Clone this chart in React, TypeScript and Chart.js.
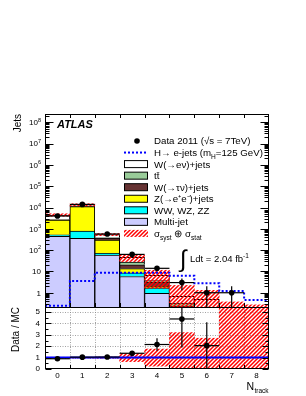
import React, { useEffect, useRef } from 'react';
import { Chart, registerables } from 'chart.js';

Chart.register(...registerables);

// ---------------- data ----------------
const bins = [0, 1, 2, 3, 4, 5, 6, 7, 8];
const xTickLabels = ['0', '1', '2', '3', '4', '5', '6', '7', '8'];

// stacked MC components, bottom -> top
const multiJet = [450, 360, 59, 5.8, 0.95, 0, 0, 0, 0];
const diboson = [70, 430, 12, 2.8, 0.75, 0.05, 0.03, 0.02, 0.01];
const zee = [2080, 10200, 229, 5, 0.3, 0.03, 0.02, 0.01, 0.01];
const wtaunu = [30, 150, 70, 7, 1.2, 0.15, 0.1, 0.03, 0.02];
const ttbar = [10, 30, 10, 7, 0.5, 0.1, 0.06, 0.02, 0.02];
const wenu = [1810, 2330, 160, 18, 2.8, 0.35, 0.28, 0.07, 0.04];

const signal = [0.245, 3.6, 8.7, 8.7, 8.7, 6.2, 2.8, 1.2, 0.45];

const dataValues: (number | null)[] = [4000, 14000, 570, 63, 14, 3, 1, 1, null];
const dataErrors: (number | null)[] = [63, 118, 24, 8, 3.7, 1.7, 1, 1, null];

const bandLow = [3900, 12000, 480, 29, 1.6, 0, 0, 0, 0];
const bandHigh = [5100, 15000, 600, 60, 11.4, 2.2, 1.3, 0.37, 0.27];

const ratioValues: (number | null)[] = [0.9, 1.04, 1.05, 1.38, 2.15, 4.39, 2.05, null, null];
const ratioErrors: (number | null)[] = [0.02, 0.01, 0.05, 0.15, 0.55, 2.5, 2.05, null, null];
const ratioBandLow = [0.97, 0.97, 0.95, 0.65, 0.25, 0, 0, 0, 0];
const ratioBandHigh = [1.03, 1.03, 1.05, 1.35, 1.75, 3.19, 2.7, 6, 6];
const ratioReference = 1;

const mainTickExponents = [0, 1, 2, 3, 4, 5, 6, 7, 8];
const ratioTicks = [0, 1, 2, 3, 4, 5];

// ---------------- styling constants ----------------
const FONT = "'Liberation Sans', Arial, Helvetica, sans-serif";
const Y_MIN = 0.214;
const Y_MAX = 2.45e8;
const R_MIN = 0;
const R_MAX = 5.44;
const X_MIN = -0.5;
const X_MAX = 8.5;

function makeHatch(): CanvasPattern | string {
  const c = document.createElement('canvas');
  const s = 4;
  c.width = s;
  c.height = s;
  const g = c.getContext('2d');
  if (!g) return 'rgba(255,0,0,0.5)';
  g.strokeStyle = '#ff0000';
  g.lineWidth = 1.5;
  g.beginPath();
  g.moveTo(0, s);
  g.lineTo(s, 0);
  g.moveTo(-1, 1);
  g.lineTo(1, -1);
  g.moveTo(s - 1, s + 1);
  g.lineTo(s + 1, s - 1);
  g.stroke();
  return g.createPattern(c, 'repeat') || 'rgba(255,0,0,0.5)';
}

type Part = [string, 'n' | 'sub' | 'sup'];

function drawRich(ctx: CanvasRenderingContext2D, parts: Part[], x: number, y: number, size: number) {
  let cx = x;
  for (const [t, k] of parts) {
    const fs = k === 'n' ? size : size * 0.68;
    const dy = k === 'sub' ? size * 0.3 : k === 'sup' ? -size * 0.42 : 0;
    ctx.font = `${fs}px ${FONT}`;
    ctx.fillText(t, cx, y + dy);
    cx += ctx.measureText(t).width;
  }
}

export default function App() {
  const ref = useRef<HTMLCanvasElement>(null);

  useEffect(() => {
    const canvas = ref.current;
    if (!canvas) return;
    const hatch = makeHatch();

    const components = [
      { label: 'Multi-jet', values: multiJet, color: '#ccccff' },
      { label: 'WW, WZ, ZZ', values: diboson, color: '#00ffff' },
      { label: 'Z(→e⁺e⁻)+jets', values: zee, color: '#ffff00' },
      { label: 'W(→τν)+jets', values: wtaunu, color: '#663333' },
      { label: 'tt̄', values: ttbar, color: '#99cc99' },
      { label: 'W(→eν)+jets', values: wenu, color: '#ffffff' },
    ];

    let prev = bins.map(() => 0);
    const stackDatasets = components.map((c) => {
      const lo = prev;
      const hi = lo.map((v, i) => v + c.values[i]);
      prev = hi;
      return {
        type: 'bar',
        label: c.label,
        yAxisID: 'y',
        data: bins.map((b, i) =>
          hi[i] > Y_MIN && c.values[i] > 0
            ? { x: b, y: [Math.max(lo[i], Y_MIN), hi[i]] }
            : { x: b, y: null }
        ),
        backgroundColor: c.color,
        borderColor: '#000000',
        borderWidth: 1,
        borderSkipped: 'bottom',
        grouped: false,
        barPercentage: 1,
        categoryPercentage: 1,
        order: 20,
      };
    });

    const signalPoints = bins
      .map((b, i) => ({ x: b - 0.5, y: signal[i] }))
      .concat([{ x: bins[bins.length - 1] + 0.5, y: signal[signal.length - 1] }]);

    const datasets: any[] = [
      ...stackDatasets,
      {
        type: 'bar',
        label: 'band',
        yAxisID: 'y',
        data: bins.map((b, i) => ({ x: b, y: [Math.max(bandLow[i], Y_MIN), bandHigh[i]] })),
        backgroundColor: hatch,
        borderWidth: 0,
        grouped: false,
        barPercentage: 1,
        categoryPercentage: 1,
        order: 15,
      },
      {
        type: 'line',
        label: 'signal',
        yAxisID: 'y',
        data: signalPoints,
        stepped: 'before',
        borderColor: '#0000ff',
        borderWidth: 2,
        borderDash: [2, 2],
        pointRadius: 0,
        fill: false,
        order: 10,
      },
      {
        type: 'line',
        label: 'data',
        yAxisID: 'y',
        data: bins
          .map((b, i) => ({ x: b, y: dataValues[i] }))
          .filter((p) => p.y !== null),
        showLine: false,
        pointRadius: 2.8,
        pointBackgroundColor: '#000000',
        pointBorderWidth: 0,
        order: 5,
      },
      {
        type: 'bar',
        label: 'ratio band',
        yAxisID: 'yR',
        data: bins.map((b, i) => ({
          x: b,
          y: [Math.max(ratioBandLow[i], R_MIN), Math.min(ratioBandHigh[i], R_MAX)],
        })),
        backgroundColor: hatch,
        borderWidth: 0,
        grouped: false,
        barPercentage: 1,
        categoryPercentage: 1,
        order: 15,
      },
      {
        type: 'line',
        label: 'ratio ref',
        yAxisID: 'yR',
        data: [
          { x: X_MIN, y: ratioReference },
          { x: X_MAX, y: ratioReference },
        ],
        borderColor: '#0000ff',
        borderWidth: 2,
        pointRadius: 0,
        order: 10,
      },
      {
        type: 'line',
        label: 'ratio',
        yAxisID: 'yR',
        data: bins
          .map((b, i) => ({ x: b, y: ratioValues[i] }))
          .filter((p) => p.y !== null),
        showLine: false,
        pointRadius: 2.8,
        pointBackgroundColor: '#000000',
        pointBorderWidth: 0,
        order: 5,
      },
    ];

    const line = (ctx: CanvasRenderingContext2D, x1: number, y1: number, x2: number, y2: number) => {
      ctx.beginPath();
      ctx.moveTo(x1, y1);
      ctx.lineTo(x2, y2);
      ctx.stroke();
    };

    const decor = {
      id: 'atlasDecor',
      beforeDatasetsDraw(chart: any) {
        const { ctx, chartArea, scales } = chart;
        const x = scales.x;
        const yR = scales.yR;
        ctx.save();
        ctx.strokeStyle = '#8a8a8a';
        ctx.lineWidth = 0.8;
        ctx.setLineDash([1, 1.5]);
        for (const t of ratioTicks) {
          if (t <= R_MIN) continue;
          const py = Math.round(yR.getPixelForValue(t)) + 0.5;
          line(ctx, chartArea.left, py, chartArea.right, py);
        }
        for (let i = 0; i < bins.length - 1; i++) {
          const px = Math.round(x.getPixelForValue(bins[i] + 0.5)) + 0.5;
          line(ctx, px, yR.top, px, yR.bottom);
        }
        ctx.restore();
      },
      afterDatasetsDraw(chart: any) {
        const { ctx, chartArea, scales } = chart;
        const x = scales.x;
        const y = scales.y;
        const yR = scales.yR;
        ctx.save();

        // error bars (main)
        ctx.strokeStyle = '#000';
        ctx.lineWidth = 1.2;
        bins.forEach((b, i) => {
          const v = dataValues[i];
          const e = dataErrors[i];
          if (v === null || e === null) return;
          const pl = x.getPixelForValue(b - 0.5);
          const pr = x.getPixelForValue(b + 0.5);
          const pc = x.getPixelForValue(b);
          const py = y.getPixelForValue(v);
          const pt = y.getPixelForValue(v + e);
          const pb = v - e > Y_MIN ? y.getPixelForValue(v - e) : y.bottom;
          line(ctx, pl, py, pr, py);
          line(ctx, pc, Math.max(pt, y.top), pc, Math.min(pb, y.bottom));
        });
        // error bars (ratio)
        bins.forEach((b, i) => {
          const v = ratioValues[i];
          const e = ratioErrors[i];
          if (v === null || e === null) return;
          const pl = x.getPixelForValue(b - 0.5);
          const pr = x.getPixelForValue(b + 0.5);
          const pc = x.getPixelForValue(b);
          const py = yR.getPixelForValue(v);
          const pt = yR.getPixelForValue(Math.min(v + e, R_MAX));
          const pb = yR.getPixelForValue(Math.max(v - e, R_MIN));
          line(ctx, pl, py, pr, py);
          line(ctx, pc, pt, pc, pb);
        });

        // frames
        ctx.lineWidth = 1;
        ctx.strokeStyle = '#000';
        const L = Math.round(chartArea.left) + 0.5;
        const R = Math.round(chartArea.right) - 0.5;
        ctx.strokeRect(L, Math.round(y.top) + 0.5, R - L, Math.round(y.bottom) - Math.round(y.top));
        ctx.strokeRect(L, Math.round(yR.top) + 0.5, R - L, Math.round(yR.bottom) - Math.round(yR.top) - 1);

        // log ticks main (inward, both sides)
        for (let e = -1; e <= 8; e++) {
          for (let m = 1; m <= 9; m++) {
            const v = m * Math.pow(10, e);
            if (v < Y_MIN || v > Y_MAX) continue;
            const py = Math.round(y.getPixelForValue(v)) + 0.5;
            const len = m === 1 ? 8 : 4;
            line(ctx, L, py, L + len, py);
            line(ctx, R, py, R - len, py);
          }
        }
        // ratio ticks
        for (let t = 0; t <= R_MAX; t += 0.5) {
          const py = Math.round(yR.getPixelForValue(t)) + 0.5;
          const len = Number.isInteger(t) ? 6 : 3;
          line(ctx, L, py, L + len, py);
          line(ctx, R, py, R - len, py);
        }
        // x ticks at bin edges
        for (let i = 0; i < bins.length - 1; i++) {
          const px = Math.round(x.getPixelForValue(bins[i] + 0.5)) + 0.5;
          line(ctx, px, y.top, px, y.top + 4);
          line(ctx, px, y.bottom, px, y.bottom - 4);
          line(ctx, px, yR.bottom, px, yR.bottom - 4);
        }

        // main y labels
        ctx.fillStyle = '#000';
        ctx.textAlign = 'left';
        ctx.textBaseline = 'alphabetic';
        for (const e of mainTickExponents) {
          const py = y.getPixelForValue(Math.pow(10, e));
          const base = py + 2.9;
          ctx.font = `8px ${FONT}`;
          if (e === 0 || e === 1) {
            const t = e === 0 ? '1' : '10';
            const w = ctx.measureText(t).width;
            ctx.fillText(t, 41 - w, base);
          } else {
            ctx.font = `5.5px ${FONT}`;
            const sup = String(e);
            const sw = ctx.measureText(sup).width;
            ctx.font = `8px ${FONT}`;
            const w = ctx.measureText('10').width;
            ctx.fillText('10', 41 - sw - w, base);
            ctx.font = `5.5px ${FONT}`;
            ctx.fillText(sup, 41 - sw, base - 3.6);
          }
        }

        // ATLAS label
        ctx.font = `italic bold 11px ${FONT}`;
        ctx.fillText('ATLAS', 57, 127.5);

        // legend
        const swL = 124;
        const swW = 24;
        const tx = 154;
        const y0 = 141;
        const dy = 11.55;
        const fs = 9.7;
        const textY = (k: number) => y0 + k * dy + 3.4;
        ctx.beginPath();
        ctx.arc(137, y0, 2.8, 0, Math.PI * 2);
        ctx.fill();
        drawRich(ctx, [['Data 2011 (√s = 7TeV)', 'n']], tx, textY(0), fs);
        ctx.save();
        ctx.strokeStyle = '#0000ff';
        ctx.lineWidth = 2;
        ctx.setLineDash([2, 2]);
        line(ctx, swL, y0 + dy, swL + swW, y0 + dy);
        ctx.restore();
        drawRich(ctx, [['H→ e-jets (m', 'n'], ['H', 'sub'], ['=125 GeV)', 'n']], tx, textY(1), fs);
        const rev = [...components].reverse();
        rev.forEach((c, k) => {
          const cy = y0 + (k + 2) * dy;
          ctx.fillStyle = c.color;
          ctx.fillRect(swL, cy - 3.5, swW, 7);
          ctx.strokeStyle = '#000';
          ctx.lineWidth = 1;
          ctx.strokeRect(swL + 0.5, cy - 3.5, swW - 1, 7);
          ctx.fillStyle = '#000';
          drawRich(ctx, [[c.label, 'n']], tx, textY(k + 2), fs);
        });
        const hy = y0 + 8 * dy;
        ctx.fillStyle = hatch as any;
        ctx.fillRect(swL, hy - 3.5, swW, 7);
        ctx.fillStyle = '#000';
        drawRich(ctx, [['σ', 'n'], ['syst', 'sub'], [' ⊕ σ', 'n'], ['stat', 'sub']], tx, textY(8), fs);

        // luminosity
        ctx.font = `24px ${FONT}`;
        ctx.fillText('∫', 180, 267);
        drawRich(ctx, [['Ldt = 2.04 fb', 'n'], ['-1', 'sup']], 190, 261.5, 9.5);

        // x-axis title
        drawRich(ctx, [['N', 'n']], 246.5, 389.5, 10.5);
        ctx.font = `6.5px ${FONT}`;
        ctx.fillText('track', 254.5, 392.8);

        ctx.restore();
      },
    };

    const chart = new Chart(canvas, {
      type: 'bar',
      data: { datasets },
      options: {
        responsive: false,
        maintainAspectRatio: false,
        animation: false,
        events: [],
        layout: { padding: { left: 0, right: 37, top: 114, bottom: 0 } },
        plugins: {
          legend: { display: false },
          tooltip: { enabled: false },
          title: { display: false },
        },
        scales: {
          x: {
            type: 'linear',
            min: X_MIN,
            max: X_MAX,
            offset: false,
            grid: { display: false, drawTicks: false },
            border: { display: false },
            ticks: {
              autoSkip: false,
              maxRotation: 0,
              padding: 2,
              color: '#000',
              font: { family: FONT, size: 8 },
              callback: (v: any) => xTickLabels[bins.indexOf(Number(v))] ?? '',
            },
            afterBuildTicks: (s: any) => {
              s.ticks = bins.map((v) => ({ value: v }));
            },
            afterFit: (s: any) => {
              s.height = 27;
            },
          },
          yR: {
            type: 'linear',
            position: 'left',
            stack: 'panels',
            stackWeight: 62,
            min: R_MIN,
            max: R_MAX,
            grid: { display: false, drawTicks: false },
            border: { display: false },
            ticks: {
              autoSkip: false,
              padding: 5,
              color: '#000',
              font: { family: FONT, size: 8 },
            },
            afterBuildTicks: (s: any) => {
              s.ticks = ratioTicks.map((v) => ({ value: v }));
            },
            afterFit: (s: any) => {
              s.width = 45;
            },
            title: {
              display: true,
              text: 'Data / MC',
              align: 'end',
              color: '#000',
              font: { family: FONT, size: 10 },
              padding: { top: 10, bottom: 0 },
            },
          },
          y: {
            type: 'logarithmic',
            position: 'left',
            stack: 'panels',
            stackWeight: 193,
            min: Y_MIN,
            max: Y_MAX,
            grid: { display: false, drawTicks: false },
            border: { display: false },
            ticks: { display: false },
            afterFit: (s: any) => {
              s.width = 45;
            },
            title: {
              display: true,
              text: 'Jets',
              align: 'end',
              color: '#000',
              font: { family: FONT, size: 10 },
              padding: { top: 12, bottom: 0 },
            },
          },
        },
      } as any,
      plugins: [decor as any],
    } as any);

    return () => chart.destroy();
  }, []);

  return (
    <div style={{ position: 'fixed', left: 0, top: 0, width: 306, height: 396, background: '#ffffff' }}>
      <canvas ref={ref} width={306} height={396} style={{ display: 'block', width: 306, height: 396 }} />
    </div>
  );
}
